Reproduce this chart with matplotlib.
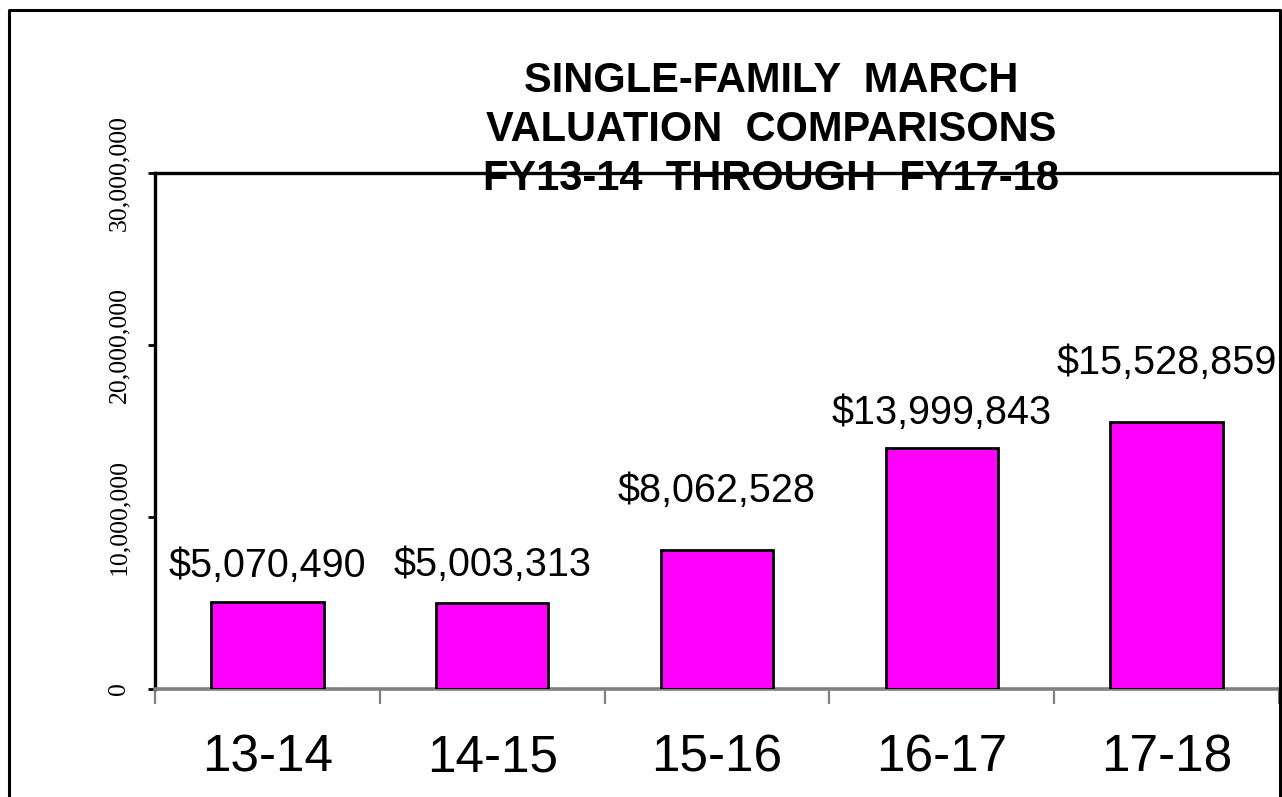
import numpy as np
import matplotlib
matplotlib.use("Agg")
import matplotlib.pyplot as plt
from matplotlib.lines import Line2D

# data
years = ["13-14", "14-15", "15-16", "16-17", "17-18"]
values = [5070490, 5003313, 8062528, 13999843, 15528859]
y_ticks = [0, 10000000, 20000000, 30000000]

# label gap above each bar (pixels), as placed in the original
label_gap_px = [25, 27, 48, 24, 48]

W, H = 1282, 797
fig = plt.figure(figsize=(W / 100, H / 100), dpi=100)
fig.patch.set_facecolor("white")

ax = fig.add_axes([155 / W, 1 - 689 / H, (1279 - 155) / W, (689 - 173) / H])

x = np.arange(len(years))
ax.bar(x, values, width=0.5, color="#FF00FF", edgecolor="black", linewidth=2, zorder=3)

for xi, v, gap in zip(x, values, label_gap_px):
    ax.annotate("${:,}".format(v), (xi, v), xytext=(0, gap * 0.72), textcoords="offset points",
                ha="center", va="baseline", fontsize=28.5, family="Liberation Sans")

ax.set_xlim(-0.5, len(years) - 0.5)
ax.set_ylim(0, 30000000)

# x axis: labels at centres, gray ticks at the category boundaries
ax.set_xticks(x)
ax.set_xticklabels(years, fontsize=37, family="Liberation Sans")
ax.tick_params(axis="x", which="major", length=0, pad=59.5)
for lab in ax.get_xticklabels():
    lab.set_va("baseline")
ax.set_xticks(np.arange(-0.5, len(years), 1), minor=True)
ax.tick_params(axis="x", which="minor", length=11, width=1.6, color="#808080", direction="out")

ax.set_yticks(y_ticks)
ax.set_yticklabels(["{:,}".format(t) for t in y_ticks], fontsize=18.5,
                   family=["Liberation Serif", "DejaVu Serif"], rotation=90, va="center")
ax.tick_params(axis="y", length=5, width=2, color="black", pad=13)

ax.spines["right"].set_visible(False)
ax.spines["left"].set_linewidth(2.4)
ax.spines["top"].set_linewidth(2.4)
ax.spines["bottom"].set_color("#808080")
ax.spines["bottom"].set_linewidth(2.6)

fig.text(771 / W, 1 - 130 / H, "SINGLE-FAMILY  MARCH\nVALUATION  COMPARISONS\nFY13-14  THROUGH  FY17-18",
         ha="center", va="center", multialignment="center", fontsize=30, fontweight="bold",
         family="Liberation Sans", linespacing=1.28, zorder=5)

# outer chart frame
fig.add_artist(Line2D([9 / W, 9 / W, 1280 / W, 1280 / W], [-0.02, 1 - 10 / H, 1 - 10 / H, -0.02],
                      transform=fig.transFigure, color="black", linewidth=2.2))

fig.savefig("out.png", dpi=100)
